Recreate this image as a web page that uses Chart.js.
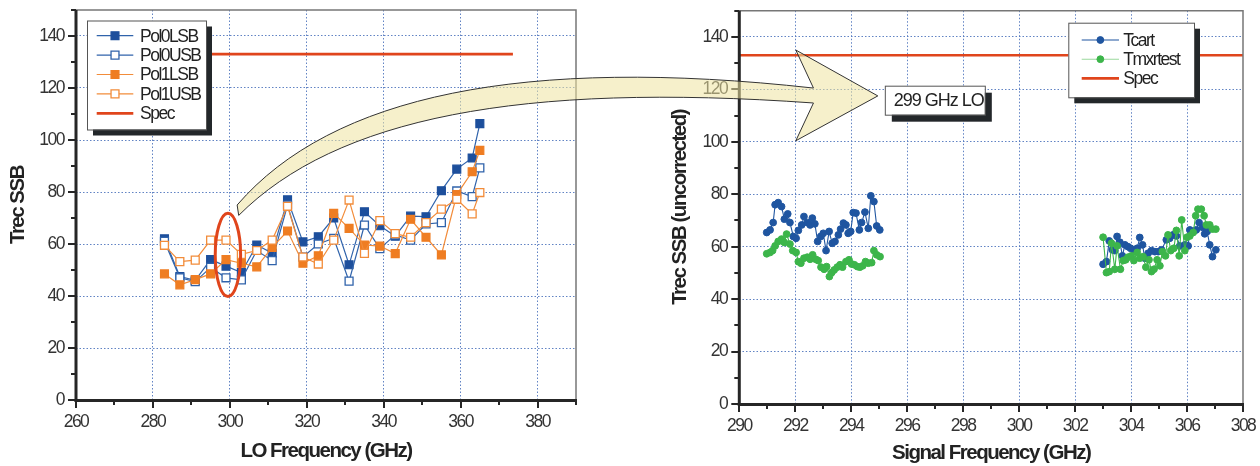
<!DOCTYPE html>
<html><head><meta charset="utf-8">
<script src="https://cdn.jsdelivr.net/npm/chart.js@4.4.1/dist/chart.umd.min.js"></script>
<style>
html,body{margin:0;padding:0;background:#fff;width:1260px;height:466px;overflow:hidden}
#wrap{position:relative;width:1260px;height:466px}
canvas{position:absolute;top:0}
#c1{left:0}#c2{left:620px}#ov{left:0;pointer-events:none}
</style></head><body>
<div id="wrap">
<canvas id="c1" width="620" height="466"></canvas>
<canvas id="c2" width="640" height="466"></canvas>
<canvas id="ov" width="1260" height="466"></canvas>
</div>
<script>
// ---------- LEFT CHART DATA ----------
const loFreq  = [283,287,291,295,299,303,307,311,315,319,323,327,331,335,339,343,347,351,355,359,363,365];
const pol0LSB = [62,47.5,46,54,51.5,49,59.6,56.5,77,60.8,62.8,70,52,72.4,67,63,70.7,70.5,80.5,88.8,93.1,106.3];
const pol0USB = [61,47,45.5,51,47,46.2,57.5,53.6,75,55,60,62.2,45.7,67.3,58.2,63.5,61.5,67.7,68.2,80.4,78.2,89.3];
const pol1LSB = [48.5,44.3,46.3,48.5,54,52.6,51.2,58.7,65,52.6,55.5,71.8,66,59.6,59.2,56.3,69.5,62.6,55.8,79,87.8,96];
const pol1USB = [59.5,53.2,53.8,61.5,61.5,56,57.5,61.5,74.5,55,52.3,61.5,76.9,56.4,69,64,62.6,68.2,73.4,77.2,71.6,79.8];
const specLeftFreq = [280,373.6];
const specLeftVal  = [133,133];
const leftXTicks = {min:260,max:390,major:20,minor:10};
const leftYTicks = {min:0,max:150,major:20,minor:10};

// ---------- RIGHT CHART DATA ----------
const tcartFreqA = [290.98,291.10,291.21,291.28,291.39,291.51,291.61,291.73,291.81,291.93,292.03,292.11,292.23,292.31,292.43,292.53,292.61,292.70,292.80,292.91,293.00,293.10,293.21,293.32,293.42,293.54,293.62,293.72,293.81,293.89,293.98,294.07,294.17,294.29,294.37,294.49,294.61,294.70,294.81,294.91,295.02];
const tcartValA  = [65.4,66.4,69.2,76.0,76.8,75.3,70.5,72.5,69.2,63.9,63.2,66.2,68.3,71.5,69.2,68.3,70.9,68.7,62.0,63.9,65.1,58.5,65.8,61.3,62.0,64.5,66.7,69.0,68.3,65.1,65.8,73.0,72.8,66.4,69.2,73.2,67.0,79.4,77.2,67.9,66.4];
const tcartFreqB = [303.00,303.12,303.22,303.33,303.42,303.50,303.60,303.69,303.78,303.89,303.98,304.10,304.22,304.31,304.41,304.49,304.61,304.73,304.85,304.97,305.09,305.26,305.38,305.50,305.62,305.74,305.92,306.04,306.10,306.22,306.33,306.43,306.55,306.63,306.72,306.81,306.91,307.03];
const tcartValB  = [53.3,54.3,62.2,58.8,58.5,63.9,61.7,56.5,60.7,60.0,59.4,58.8,59.4,63.5,60.7,55.6,57.5,58.5,58.1,58.1,58.8,62.6,63.2,64.5,64.1,60.3,60.7,60.3,66.4,65.8,66.4,69.2,67.4,64.9,65.8,60.7,56.2,58.8];
const tmxFreqA = [290.98,291.10,291.19,291.28,291.39,291.51,291.61,291.69,291.81,291.91,292.03,292.11,292.20,292.31,292.43,292.53,292.62,292.73,292.82,292.92,293.03,293.12,293.22,293.30,293.39,293.50,293.60,293.69,293.81,293.92,294.01,294.11,294.22,294.31,294.41,294.51,294.61,294.73,294.81,294.91,295.03];
const tmxValA  = [57.3,57.8,58.5,60.3,62.0,62.9,61.6,64.8,61.0,58.5,57.8,54.3,53.7,55.6,56.0,55.2,56.9,55.2,54.7,52.2,51.4,52.4,48.6,50.1,51.1,52.2,53.1,52.2,54.3,55.0,53.4,53.1,52.4,52.2,52.7,54.3,53.7,53.9,58.5,56.9,56.2];
const tmxFreqB = [303.00,303.12,303.22,303.30,303.42,303.50,303.62,303.72,303.81,303.89,304.01,304.10,304.22,304.31,304.43,304.53,304.64,304.73,304.82,304.93,305.03,305.12,305.23,305.32,305.42,305.53,305.62,305.72,305.81,305.92,306.00,306.10,306.22,306.31,306.39,306.51,306.61,306.69,306.81,306.91,307.03];
const tmxValB  = [63.6,50.1,50.5,61.3,51.4,60.3,51.4,54.7,55.0,56.0,56.5,54.7,57.8,55.6,56.2,52.2,55.0,50.5,51.4,55.0,52.7,58.1,56.5,64.5,58.5,59.4,66.2,56.5,70.2,58.5,63.6,64.1,65.4,71.8,74.3,74.3,71.8,68.3,68.3,66.7,66.7];
const specRightFreq = [290,308];
const specRightVal  = [133,133];
const rightXTicks = {min:290,max:308,major:2,minor:1};
const rightYTicks = {min:0,max:150,major:20,minor:10};

// ---------- STYLE ----------
const FONT = "'Liberation Sans',Arial,sans-serif";
const GRID = 'rgba(80,118,190,0.9)';
const BLUE_F = '#1d4f9c', BLUE_L = '#3063ab';
const ORANGE_F = '#ef7d22', ORANGE_L = '#f28c3a';
const SPEC = '#e0451c';
const GREEN = '#3cb54a';

const pts = (xs, ys) => xs.map((x,i)=>({x:x, y:ys[i]}));
const gap = (a, b, mid) => a.concat([{x:mid,y:null}], b);

const tracking = {
  id:'tracking',
  beforeDraw(chart){ chart.ctx.letterSpacing = '-1.5px'; }
};

const framePlugin = {
  id:'frame',
  afterDatasetsDraw(chart, args, o){
    const {ctx, chartArea:a, scales:{x,y}} = chart;
    ctx.save();
    ctx.strokeStyle = '#777'; ctx.lineWidth = 1.5;
    ctx.beginPath(); ctx.moveTo(a.left,a.top); ctx.lineTo(a.right,a.top); ctx.lineTo(a.right,a.bottom); ctx.stroke();
    ctx.strokeStyle = '#262626'; ctx.lineWidth = 2;
    for (let v=o.y.min; v<=o.y.max+1e-9; v+=o.y.minor){
      const py = Math.round(y.getPixelForValue(v));
      const len = (Math.abs(v % o.y.major) < 1e-9) ? 8 : 5;
      ctx.beginPath(); ctx.moveTo(a.left-len, py); ctx.lineTo(a.left, py); ctx.stroke();
    }
    for (let v=o.x.min; v<=o.x.max+1e-9; v+=o.x.minor){
      const px = Math.round(x.getPixelForValue(v));
      const len = (Math.abs((v-o.x.min) % o.x.major) < 1e-9) ? 8 : 5;
      ctx.beginPath(); ctx.moveTo(px, a.bottom); ctx.lineTo(px, a.bottom+len); ctx.stroke();
    }
    ctx.lineWidth = 3;
    ctx.beginPath(); ctx.moveTo(a.left, a.top); ctx.lineTo(a.left, a.bottom+1.5); ctx.stroke();
    ctx.beginPath(); ctx.moveTo(a.left-1.5, a.bottom+0.5); ctx.lineTo(a.right+1, a.bottom+0.5); ctx.stroke();
    ctx.restore();
  }
};

const boxLegend = {
  id:'boxLegend',
  afterDraw(chart, args, o){
    const ctx = chart.ctx;
    ctx.save();
    ctx.fillStyle = '#23272a'; ctx.fillRect(o.x+o.shadow, o.y+o.shadow, o.w, o.h);
    ctx.fillStyle = '#fff'; ctx.fillRect(o.x, o.y, o.w, o.h);
    ctx.strokeStyle = '#555'; ctx.lineWidth = 1; ctx.strokeRect(o.x+0.5, o.y+0.5, o.w, o.h);
    ctx.font = o.fontSize + 'px ' + FONT; ctx.textBaseline = 'middle'; ctx.textAlign = 'left';
    chart.data.datasets.forEach((ds, i) => {
      const yy = o.y + o.first + i*o.row;
      ctx.strokeStyle = ds.legendLineColor || ds.borderColor;
      ctx.lineWidth = ds.borderWidth;
      ctx.beginPath(); ctx.moveTo(o.x+o.s0, yy); ctx.lineTo(o.x+o.s1, yy); ctx.stroke();
      if (ds.pointRadius > 0){
        ctx.fillStyle = ds.pointBackgroundColor; ctx.strokeStyle = ds.pointBorderColor; ctx.lineWidth = ds.pointBorderWidth;
        Chart.helpers.drawPoint(ctx, {pointStyle:ds.pointStyle, radius:ds.pointRadius, rotation:0, borderWidth:ds.pointBorderWidth}, o.x+(o.s0+o.s1)/2, yy);
      }
      ctx.fillStyle = '#222';
      ctx.fillText(ds.label, o.x+o.tx, yy+1);
    });
    ctx.restore();
  }
};

const ellipsePlugin = {
  id:'loEllipse',
  afterDatasetsDraw(chart, args, o){
    if (!o || !o.show) return;
    const {ctx, scales:{x,y}} = chart;
    const cx = x.getPixelForValue(o.cx), cy = y.getPixelForValue(o.cy);
    const rx = Math.abs(x.getPixelForValue(o.cx+o.rx)-cx), ry = Math.abs(y.getPixelForValue(o.cy+o.ry)-cy);
    ctx.save(); ctx.strokeStyle = SPEC; ctx.lineWidth = 3;
    ctx.beginPath(); ctx.ellipse(cx, cy, rx, ry, 0, 0, Math.PI*2); ctx.stroke(); ctx.restore();
  }
};

const notePlugin = {
  id:'note',
  afterDraw(chart, args, o){
    if (!o || !o.text) return;
    const {ctx, scales:{x,y}} = chart;
    const left = x.getPixelForValue(o.x), top = y.getPixelForValue(o.y);
    ctx.save();
    ctx.letterSpacing = '-1px';
    ctx.font = o.fontSize + 'px ' + FONT;
    const w = 100, h = 29;
    ctx.fillStyle = '#23272a'; ctx.fillRect(left+7, top+7, w, h);
    ctx.fillStyle = '#fff'; ctx.fillRect(left, top, w, h);
    ctx.strokeStyle = '#555'; ctx.lineWidth = 1; ctx.strokeRect(left+0.5, top+0.5, w, h);
    ctx.fillStyle = '#222'; ctx.textBaseline = 'middle';
    ctx.fillText(o.text, left+9, top+h/2+1);
    ctx.restore();
  }
};

function axis(t, titleText, titlePad, isX, gridTest, fitSize){
  return {
    type:'linear', min:t.min, max:t.max,
    afterFit(s){
      if (isX) s.height = fitSize; else s.width = fitSize;
      s.paddingTop = 0; s.paddingBottom = 0; s.paddingLeft = 0; s.paddingRight = 0;
    },
    ticks:{stepSize:t.minor, autoSkip:false, maxRotation:0, padding:12, color:'#333',
      font:{family:FONT, size:17.5},
      callback:v => (Math.abs((v - (isX ? t.min : 0)) % t.major) < 1e-9) ? String(v) : ''},
    grid:{drawTicks:false, lineWidth:1,
      color: c => (c.tick && gridTest(c.tick.value)) ? GRID : 'rgba(0,0,0,0)'},
    border:{display:false, dash:[1.5,2]},
    title:{display:true, text:titleText, color:'#222', font:{family:FONT, size:20.5, weight:'bold'}, padding:titlePad}
  };
}

const common = {animation:false, responsive:false, devicePixelRatio:1, events:[]};

// ---------- LEFT CHART ----------
const chart1 = new Chart(document.getElementById('c1'), {
  type:'line',
  data:{datasets:[
    {label:'Pol0LSB', data:pts(loFreq,pol0LSB), borderColor:BLUE_L, borderWidth:1.2, pointStyle:'rect', pointRadius:5.6,
     pointBackgroundColor:BLUE_F, pointBorderColor:BLUE_F, pointBorderWidth:1.2, order:4},
    {label:'Pol0USB', data:pts(loFreq,pol0USB), borderColor:BLUE_L, borderWidth:1.2, pointStyle:'rect', pointRadius:5.6,
     pointBackgroundColor:'#fff', pointBorderColor:BLUE_L, pointBorderWidth:1.3, order:3},
    {label:'Pol1LSB', data:pts(loFreq,pol1LSB), borderColor:ORANGE_L, borderWidth:1.2, pointStyle:'rect', pointRadius:5.6,
     pointBackgroundColor:ORANGE_F, pointBorderColor:ORANGE_F, pointBorderWidth:1.2, order:2},
    {label:'Pol1USB', data:pts(loFreq,pol1USB), borderColor:ORANGE_L, borderWidth:1.2, pointStyle:'rect', pointRadius:5.6,
     pointBackgroundColor:'#fff', pointBorderColor:ORANGE_L, pointBorderWidth:1.3, order:1},
    {label:'Spec', data:pts(specLeftFreq,specLeftVal), borderColor:SPEC, borderWidth:2.7, pointRadius:0, order:5}
  ]},
  options:Object.assign({}, common, {
    layout:{autoPadding:false, padding:{top:10, right:44, left:0, bottom:0}},
    plugins:{legend:{display:false}, tooltip:{enabled:false},
      frame:{x:leftXTicks, y:leftYTicks},
      boxLegend:{x:87, y:20.5, w:119, h:109, shadow:6, first:15.2, row:19.4, s0:9.7, s1:46.3, tx:53, fontSize:17.5},
      loEllipse:{show:true, cx:299.5, cy:55.8, rx:3.3, ry:16}
    },
    scales:{
      x:axis(leftXTicks, 'LO Frequency (GHz)', {top:0,bottom:2.4}, true, v => v%20===0 && v!==260, 66),
      y:axis(leftYTicks, 'Trec SSB', {top:6,bottom:0}, false, v => v%20===0 && v!==0, 76)
    }
  }),
  plugins:[tracking, framePlugin, boxLegend, ellipsePlugin]
});

// ---------- RIGHT CHART ----------
const chart2 = new Chart(document.getElementById('c2'), {
  type:'line',
  data:{datasets:[
    {label:'Tcart', data:gap(pts(tcartFreqA,tcartValA), pts(tcartFreqB,tcartValB), 299), borderColor:'#1f55a0', borderWidth:1.1,
     pointStyle:'circle', pointRadius:3.4, pointBackgroundColor:'#1f55a0', pointBorderColor:'#1f55a0', pointBorderWidth:1, order:2},
    {label:'Tmxrtest', data:gap(pts(tmxFreqA,tmxValA), pts(tmxFreqB,tmxValB), 299), borderColor:GREEN, legendLineColor:'#9ad89c', borderWidth:1.1,
     pointStyle:'circle', pointRadius:3.4, pointBackgroundColor:GREEN, pointBorderColor:GREEN, pointBorderWidth:1, order:1},
    {label:'Spec', data:pts(specRightFreq,specRightVal), borderColor:SPEC, borderWidth:2.7, pointRadius:0, order:3}
  ]},
  options:Object.assign({}, common, {
    layout:{autoPadding:false, padding:{top:10.7, right:17, left:0, bottom:0}},
    plugins:{legend:{display:false}, tooltip:{enabled:false},
      frame:{x:rightXTicks, y:rightYTicks},
      boxLegend:{x:448.3, y:22.7, w:125.7, h:74.6, shadow:6, first:17.3, row:19.2, s0:13.4, s1:50.7, tx:55, fontSize:17.5},
      note:{text:'299 GHz LO', x:295.2, y:121.4, fontSize:18}
    },
    scales:{
      x:axis(rightXTicks, 'Signal Frequency (GHz)', {top:0,bottom:0}, true, v => v%2===0 && v!==290 && v!==308, 62),
      y:axis(rightYTicks, 'Trec SSB (uncorrected)', {top:48,bottom:0}, false, v => v%20===0 && v!==0, 119.3)
    }
  }),
  plugins:[tracking, framePlugin, boxLegend, notePlugin]
});

// ---------- OVERLAY ARROW ----------
(function(){
  const ctx = document.getElementById('ov').getContext('2d');
  const OFF2 = 620;
  const L = (xv, yv) => [chart1.scales.x.getPixelForValue(xv), chart1.scales.y.getPixelForValue(yv)];
  const R = (xv, yv) => [chart2.scales.x.getPixelForValue(xv)+OFF2, chart2.scales.y.getPixelForValue(yv)];
  const tailTop = L(301.9, 75), tailBot = L(302.3, 71);
  const notchTop = R(292.65, 120.5), cornerTop = R(292.02, 135), tip = R(294.95, 117.5), cornerBot = R(292.02, 100.4), notchBot = R(292.65, 114.8);
  ctx.save();
  ctx.beginPath();
  ctx.moveTo(tailTop[0], tailTop[1]);
  ctx.bezierCurveTo(332, 95, 524, 56, notchTop[0], notchTop[1]);
  ctx.lineTo(cornerTop[0], cornerTop[1]);
  ctx.lineTo(tip[0], tip[1]);
  ctx.lineTo(cornerBot[0], cornerBot[1]);
  ctx.lineTo(notchBot[0], notchBot[1]);
  ctx.bezierCurveTo(520, 82, 336, 118, tailBot[0], tailBot[1]);
  ctx.closePath();
  ctx.fillStyle = 'rgba(238,228,160,0.55)';
  ctx.fill();
  ctx.strokeStyle = '#333'; ctx.lineWidth = 1;
  ctx.stroke();
  ctx.restore();
})();
</script>
</body></html>
